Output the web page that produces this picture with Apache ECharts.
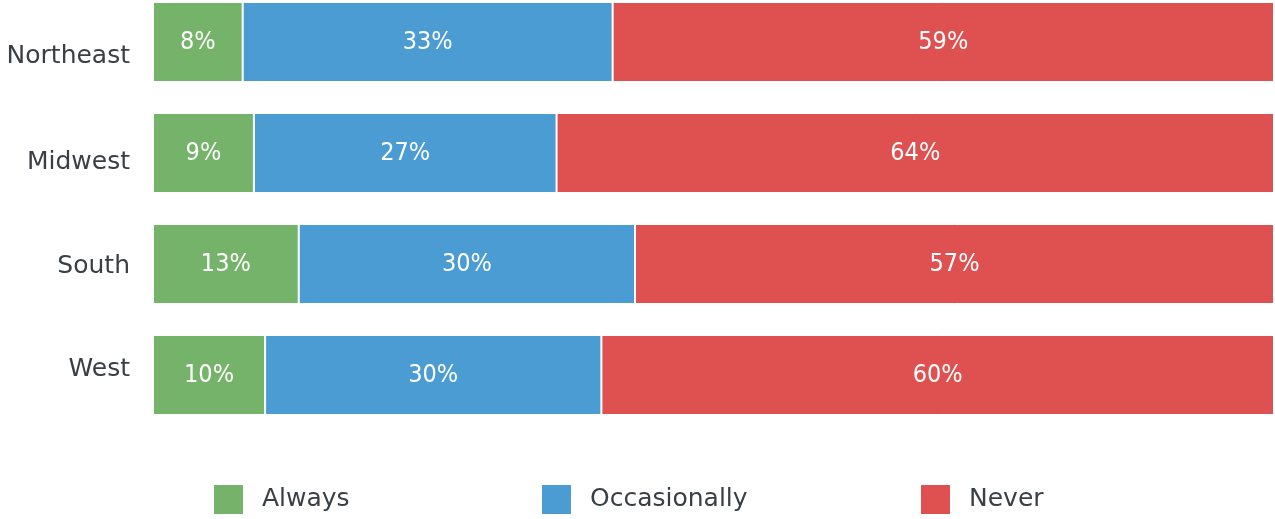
<!DOCTYPE html>
<html>
<head>
<meta charset="utf-8">
<script src="https://cdn.jsdelivr.net/npm/echarts@6/dist/echarts.min.js"></script>
<style>
  html, body { margin: 0; padding: 0; background: #fff; }
  #chart { width: 1275px; height: 519px; }
</style>
</head>
<body>
<div id="chart"></div>
<script>
const regions = ["Northeast", "Midwest", "South", "West"];
const always = [8, 9, 13, 10];
const occasionally = [33, 27, 30, 30];
const never = [59, 64, 57, 60];
const seriesNames = ["Always", "Occasionally", "Never"];
const barColors = ["#75b36a", "#4a9cd2", "#de5150"];
const legendColors = ["#76b768", "#3795da", "#e04f4f"];

// the region names sit a little off the bar centres in the original
const labelShift = [14, 9, 2, -6];
const legendX = [212, 540, 919];
const textFont = "'DejaVu Sans', sans-serif";

const chart = echarts.init(document.getElementById("chart"));

function makeSeries(name, data, i) {
  return {
    name: name,
    type: "bar",
    stack: "total",
    data: data,
    barWidth: 80,
    color: legendColors[i],
    itemStyle: { color: barColors[i], borderColor: "#fff", borderWidth: 1 },
    label: {
      show: true,
      position: "inside",
      formatter: "{c}%",
      color: "#fff",
      fontSize: 25,
      fontFamily: "'DejaVu Sans Condensed', 'Liberation Sans Narrow', Roboto, sans-serif"
    },
    animation: false
  };
}

const rich = {};
labelShift.forEach(function (s, i) {
  rich["r" + i] = {
    color: "#3a3f44",
    fontSize: 25,
    fontFamily: textFont,
    padding: s > 0 ? [2 * s, 0, 0, 0] : [0, 0, -2 * s, 0]
  };
});

const option = {
  grid: { left: 153, right: 1, top: -13.5, height: 444, outerBoundsMode: "none" },
  xAxis: {
    type: "value",
    min: 0,
    max: 100,
    show: false
  },
  yAxis: {
    type: "category",
    data: regions,
    inverse: true,
    axisLine: { show: false },
    axisTick: { show: false },
    axisLabel: {
      margin: 23,
      formatter: function (v, i) { return "{r" + i + "|" + v + "}"; },
      rich: rich
    }
  },
  legend: seriesNames.map(function (n, i) {
    return {
      data: [n],
      left: legendX[i],
      top: 483,
      padding: 0,
      itemWidth: 31,
      itemHeight: 31,
      icon: "rect",
      itemGap: 0,
      textStyle: {
        color: "#3a3f44",
        fontSize: 25,
        padding: [6, 0, 0, 13],
        fontFamily: textFont
      }
    };
  }),
  series: [
    makeSeries("Always", always, 0),
    makeSeries("Occasionally", occasionally, 1),
    makeSeries("Never", never, 2)
  ]
};

chart.setOption(option);
</script>
</body>
</html>
